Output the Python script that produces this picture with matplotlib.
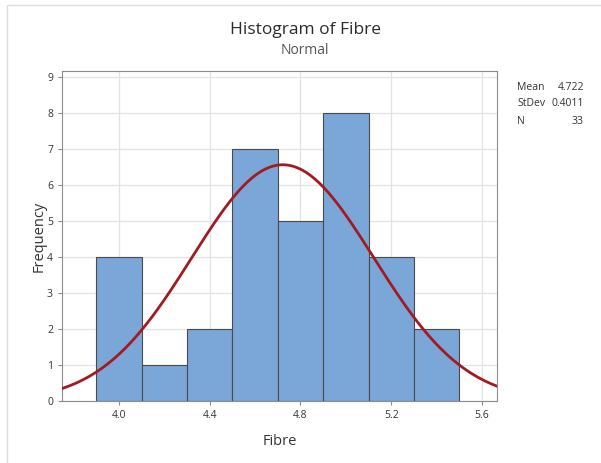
import numpy as np
import matplotlib.pyplot as plt
from matplotlib.patches import Rectangle

plt.rcParams['font.family'] = ['Open Sans', 'DejaVu Sans']

# histogram data
bin_edges = [3.9, 4.1, 4.3, 4.5, 4.7, 4.9, 5.1, 5.3, 5.5]
counts = [4, 1, 2, 7, 5, 8, 4, 2]
mean = 4.722
stdev = 0.4011
n = 33

xticks = [4.0, 4.4, 4.8, 5.2, 5.6]
yticks = [0, 1, 2, 3, 4, 5, 6, 7, 8, 9]

fig = plt.figure(figsize=(6.01, 4.63), dpi=100)
ax = fig.add_axes([62/601, 1-401/463, (497-62)/601, (401-71)/463])

widths = np.diff(bin_edges)
ax.bar(bin_edges[:-1], counts, width=widths, align='edge',
       color='#7BA6D8', edgecolor='#4a4a4a', linewidth=0.8, zorder=2)

x = np.linspace(3.749, 5.666, 300)
binw = widths[0]
y = n*binw/(stdev*np.sqrt(2*np.pi))*np.exp(-0.5*((x-mean)/stdev)**2)
ax.plot(x, y, color='#A01C20', lw=2, zorder=3)

ax.set_xlim(3.749, 5.666)
ax.set_ylim(0, 9.17)
ax.set_xticks(xticks)
ax.set_xticklabels(['%.1f' % t for t in xticks])
ax.set_yticks(yticks)
ax.grid(True, color='#e3e3e3', lw=0.9, zorder=0)
ax.set_axisbelow(True)
for s in ax.spines.values():
    s.set_color('#8c8c8c')
ax.tick_params(colors='#8c8c8c', labelcolor='#333333', labelsize=7.5, length=3)

ax.set_xlabel('Fibre', fontsize=10.5, color='#333333', labelpad=9)
ax.set_ylabel('Frequency', fontsize=10.5, color='#333333', labelpad=0)

fig.text(305/601, 1-30/463, 'Histogram of Fibre', ha='center', va='center',
         fontsize=12.5, color='#2b2b2b')
fig.text(305/601, 1-50/463, 'Normal', ha='center', va='center',
         fontsize=10, color='#555555')

labels = ['Mean', 'StDev', 'N']
values = ['4.722', '0.4011', '33']
for i, (lab, val) in enumerate(zip(labels, values)):
    yy = 1-(87+17*i)/463
    fig.text(517/601, yy, lab, ha='left', va='center', fontsize=7.5, color='#333333')
    fig.text(584/601, yy, val, ha='right', va='center', fontsize=7.5, color='#333333')

# light outer frame
fig.patches.append(Rectangle((7/601, -0.01), 1.0, 1-5/463+0.01, transform=fig.transFigure,
                             fill=False, edgecolor='#dddddd', lw=1))

fig.savefig('out.png', dpi=100)
